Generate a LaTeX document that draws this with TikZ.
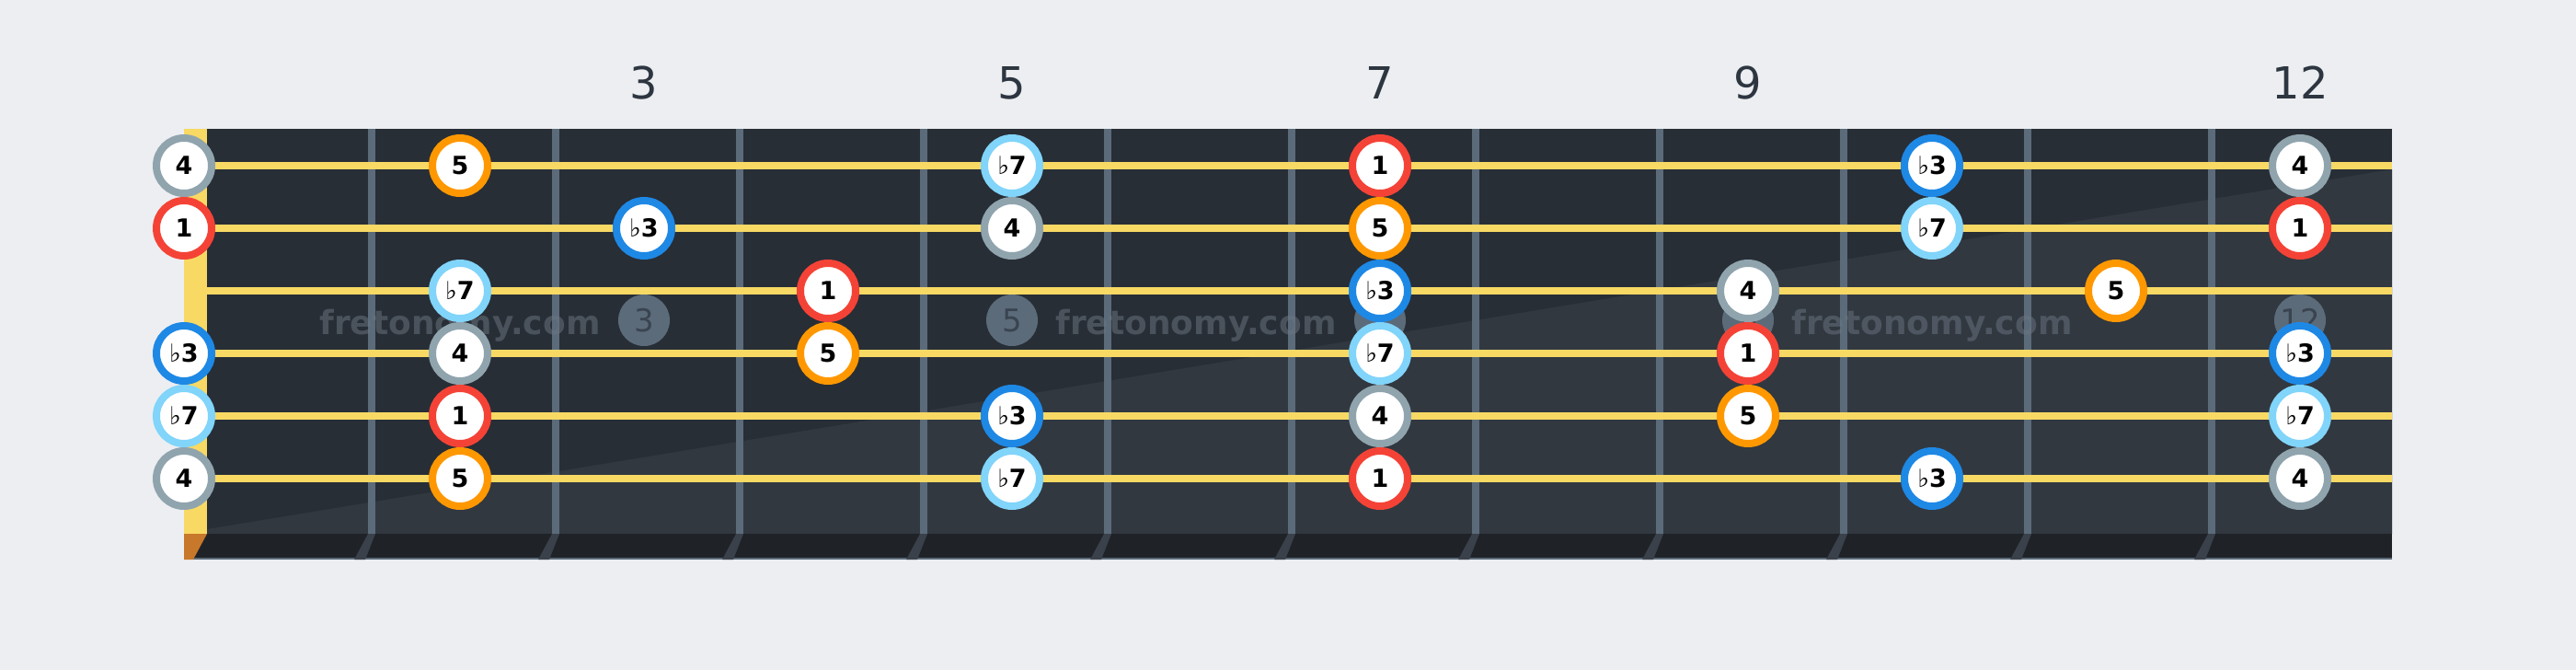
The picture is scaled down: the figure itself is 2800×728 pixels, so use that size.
\documentclass[tikz,border=0pt]{standalone}
\usepackage{fontspec}
\setmainfont{DejaVu Sans}
\definecolor{bg}{HTML}{ECEEF1}
\definecolor{boarddark}{HTML}{282E36}
\definecolor{boardlight}{HTML}{313840}
\definecolor{strip}{HTML}{1F2328}
\definecolor{fret}{HTML}{5B6B7A}
\definecolor{strc}{HTML}{F8D964}
\definecolor{nutshadow}{HTML}{C8782A}
\definecolor{fshadow}{HTML}{3A414B}
\definecolor{labc}{HTML}{2D3640}
\definecolor{inlaytxt}{HTML}{3A4450}
\definecolor{wmc}{HTML}{6C7682}
\definecolor{c1}{HTML}{F44336}
\definecolor{c3}{HTML}{1E88E5}
\definecolor{c4}{HTML}{90A4AE}
\definecolor{c5}{HTML}{FF9800}
\definecolor{c7}{HTML}{81D4FA}
\newcommand\flatsign{{\mdseries\char"266D}}
\newcommand\labi{1}
\newcommand\labiii{\flatsign3}
\newcommand\labiv{4}
\newcommand\labv{5}
\newcommand\labvii{\flatsign7}
\begin{document}
\begin{tikzpicture}[x=1pt,y=-1pt,
  note/.style={circle, fill=white, line width=8pt, minimum size=60pt, inner sep=0pt,
    font=\bfseries\fontsize{27}{27}\selectfont, text=black},
  di/.style={draw=c1}, diii/.style={draw=c3}, div/.style={draw=c4},
  dv/.style={draw=c5}, dvii/.style={draw=c7},
  fretlabel/.style={font=\fontsize{48}{48}\selectfont, text=labc, inner sep=0pt},
  inlay/.style={circle, fill=fret, minimum size=56pt, inner sep=0pt, text=inlaytxt,
    font=\fontsize{34}{34}\selectfont},
  wm/.style={font=\bfseries\fontsize{36}{36}\selectfont, text=wmc, text opacity=0.5,
    anchor=base, inner sep=0pt},
  wire/.style={line width=8pt, draw=fret},
  gstring/.style={line width=8pt, draw=strc}]
\useasboundingbox (0,0) rectangle (2800,728);
\fill[bg] (0,0) rectangle (2800,728);
% board
\fill[boarddark] (225,140) rectangle (2600,580);
\fill[boardlight] (225,575) -- (2600,184) -- (2600,580) -- (225,580) -- cycle;
% bottom strip
\fill[strip] (200,580) rectangle (2600,608);
\draw[fret, line width=2pt] (210,607) -- (2600,607);
\fill[nutshadow] (200,580) -- (225,580) -- (210,608) -- (200,608) -- cycle;
\foreach \k in {0,...,10}{
  \fill[fshadow] ({400+200*\k},580) -- ({408+200*\k},580) -- ({397+200*\k},608) -- ({385+200*\k},608) -- cycle;
}
% fret wires
\foreach \k in {0,...,10}{
  \draw[wire] ({404+200*\k},140) -- ({404+200*\k},580);
}
% nut
\fill[strc] (200,140) rectangle (225,580);
% strings
\foreach \s in {0,...,5}{
  \draw[gstring] (225,{180+68*\s}) -- (2600,{180+68*\s});
}
% fret numbers
\foreach \f/\x in {3/700,5/1100,7/1500,9/1900,12/2500}{
  \node[fretlabel] (L\f) at (\x,90) {\f};
  \node[inlay] (I\f) at (\x,348) {\f};
}
% watermarks
\foreach \i/\x in {1/500,2/1300,3/2100}{
  \node[wm] (W\i) at (\x,363) {fretonomy.com};
}
% notes
\foreach \x/\s/\d in {
  200/1/iv, 500/1/v, 1100/1/vii, 1500/1/i, 2100/1/iii, 2500/1/iv,
  200/2/i, 700/2/iii, 1100/2/iv, 1500/2/v, 2100/2/vii, 2500/2/i,
  500/3/vii, 900/3/i, 1500/3/iii, 1900/3/iv, 2300/3/v,
  200/4/iii, 500/4/iv, 900/4/v, 1500/4/vii, 1900/4/i, 2500/4/iii,
  200/5/vii, 500/5/i, 1100/5/iii, 1500/5/iv, 1900/5/v, 2500/5/vii,
  200/6/iv, 500/6/v, 1100/6/vii, 1500/6/i, 2100/6/iii, 2500/6/iv}{
  \node[note, d\d] (n\s-\x) at (\x,{180+68*(\s-1)}) {\csname lab\d\endcsname};
}
\end{tikzpicture}
\end{document}
